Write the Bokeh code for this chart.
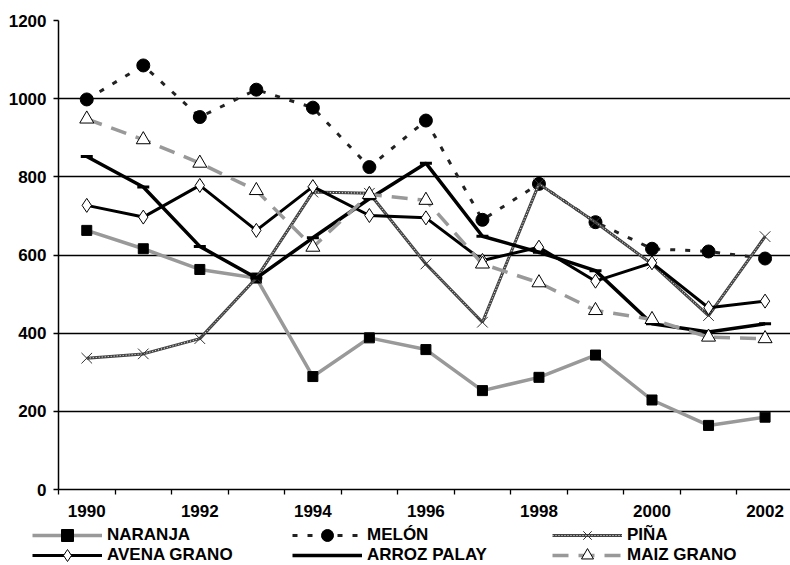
from bokeh.plotting import figure
from bokeh.models import Range1d, FixedTicker, Legend, LegendItem
from bokeh.layouts import column
from bokeh.embed import file_html
from bokeh.resources import INLINE

years = list(range(1990, 2003))
naranja = [663, 616, 563, 541, 289, 388, 358, 253, 287, 344, 229, 164, 185]
melon = [998, 1085, 953, 1023, 977, 825, 944, 690, 782, 684, 616, 609, 591]
pina = [336, 347, 386, 541, 761, 758, 577, 428, 782, 684, 577, 445, 647]
avena = [727, 697, 778, 663, 775, 701, 695, 586, 620, 533, 580, 465, 482]
arroz = [852, 774, 622, 541, 644, 744, 835, 648, 607, 560, 424, 403, 424]
maiz = [948, 895, 835, 765, 620, 755, 740, 577, 529, 458, 435, 390, 386]
series_names = ["NARANJA", "MELÓN", "PIÑA", "AVENA GRANO", "ARROZ PALAY", "MAIZ GRANO"]

x_labels = [1990, 1992, 1994, 1996, 1998, 2000, 2002]
y_ticks = [0, 200, 400, 600, 800, 1000, 1200]

FONT = "Liberation Sans"

p = figure(width=790, height=522, output_backend="svg", toolbar_location=None,
           x_range=Range1d(1989.5, 2002.45), y_range=Range1d(0, 1200),
           min_border_left=58, min_border_right=0, min_border_top=20, min_border_bottom=33)
p.frame_align = False
p.outline_line_color = None
p.background_fill_color = "white"
p.border_fill_color = "white"

p.xgrid.visible = False
p.ygrid.grid_line_color = "black"
p.ygrid.grid_line_width = 1.3

p.xaxis.ticker = FixedTicker(ticks=x_labels, minor_ticks=[y - 0.5 for y in years] + [2002.5])
p.xaxis.major_tick_out = 0
p.xaxis.major_tick_in = 0
p.xaxis.minor_tick_out = 5
p.xaxis.minor_tick_in = 0
p.xaxis.minor_tick_line_color = "black"
p.xaxis.minor_tick_line_width = 1.3
p.xaxis.major_label_standoff = 10
p.yaxis.ticker = FixedTicker(ticks=y_ticks)
p.yaxis.major_tick_out = 5
p.yaxis.major_tick_in = 0
p.yaxis.minor_tick_line_color = None
p.yaxis.major_label_standoff = 7
for ax in (p.xaxis, p.yaxis):
    ax.axis_line_color = "black"
    ax.axis_line_width = 1.5
    ax.major_tick_line_color = "black"
    ax.major_tick_line_width = 1.3
    ax.major_label_text_font = FONT
    ax.major_label_text_font_style = "bold"
    ax.major_label_text_font_size = "17px"
    ax.major_label_text_color = "black"

STY = [
    dict(line=dict(line_color="#999999", line_width=3.5),
         dots=None,
         mark=dict(marker="square", size=10, fill_color="black", line_color="black")),
    dict(line=dict(line_color="#222222", line_width=3, line_dash="5 10"),
         dots=None,
         mark=dict(marker="circle", size=13, fill_color="black", line_color="black")),
    dict(line=dict(line_color="#444444", line_width=3),
         dots=dict(line_color="white", line_width=1, line_dash="1 2"),
         mark=dict(marker="x", size=15, line_color="#333333", line_width=1)),
    dict(line=dict(line_color="black", line_width=3),
         dots=None,
         mark=dict(marker="diamond", size=14, fill_color="white", line_color="black", line_width=1)),
    dict(line=dict(line_color="black", line_width=3.5),
         dots=None,
         mark=dict(marker="dash", size=12, line_color="black", line_width=3)),
    dict(line=dict(line_color="#999999", line_width=3.5, line_dash="16 10"),
         dots=None,
         mark=dict(marker="triangle", size=14, fill_color="white", line_color="black", line_width=1)),
]
data = [naranja, melon, pina, avena, arroz, maiz]

for vals, st in zip(data, STY):
    p.line(years, vals, **st["line"])
    if st["dots"]:
        p.line(years, vals, **st["dots"])
    p.scatter(years, vals, **st["mark"])

# legend strip below (its ranges keep the proxy series out of view)
lg = figure(width=790, height=43, output_backend="svg", toolbar_location=None,
            x_range=Range1d(0, 1), y_range=Range1d(0, 1),
            x_axis_location=None, y_axis_location=None,
            min_border_left=0, min_border_right=0, min_border_top=0, min_border_bottom=0)
lg.frame_align = False
lg.outline_line_color = None
lg.xgrid.visible = False
lg.ygrid.visible = False
items = []
for i, (name, vals, st) in enumerate(zip(series_names, data, STY)):
    rs = [lg.line(years, vals, **st["line"])]
    if st["dots"]:
        rs.append(lg.line(years, vals, **st["dots"]))
    if i != 4:
        rs.append(lg.scatter(years, vals, **st["mark"]))
    items.append(LegendItem(label=name, renderers=rs))

common = dict(orientation="horizontal",
              glyph_width=70, glyph_height=30, label_height=16, label_width=185,
              label_standoff=5, spacing=0, padding=0, margin=0,
              border_line_color=None, background_fill_alpha=0,
              label_text_font=FONT, label_text_font_style="bold",
              label_text_font_size="17px", label_text_color="black")
leg1 = Legend(items=items[:3], location=(32, 15), **common)
leg2 = Legend(items=items[3:], location=(32, -5), **common)
lg.add_layout(leg1, "center")
lg.add_layout(leg2, "center")

layout = column(p, lg, spacing=0)
open("out.html", "w").write(file_html(layout, INLINE))
